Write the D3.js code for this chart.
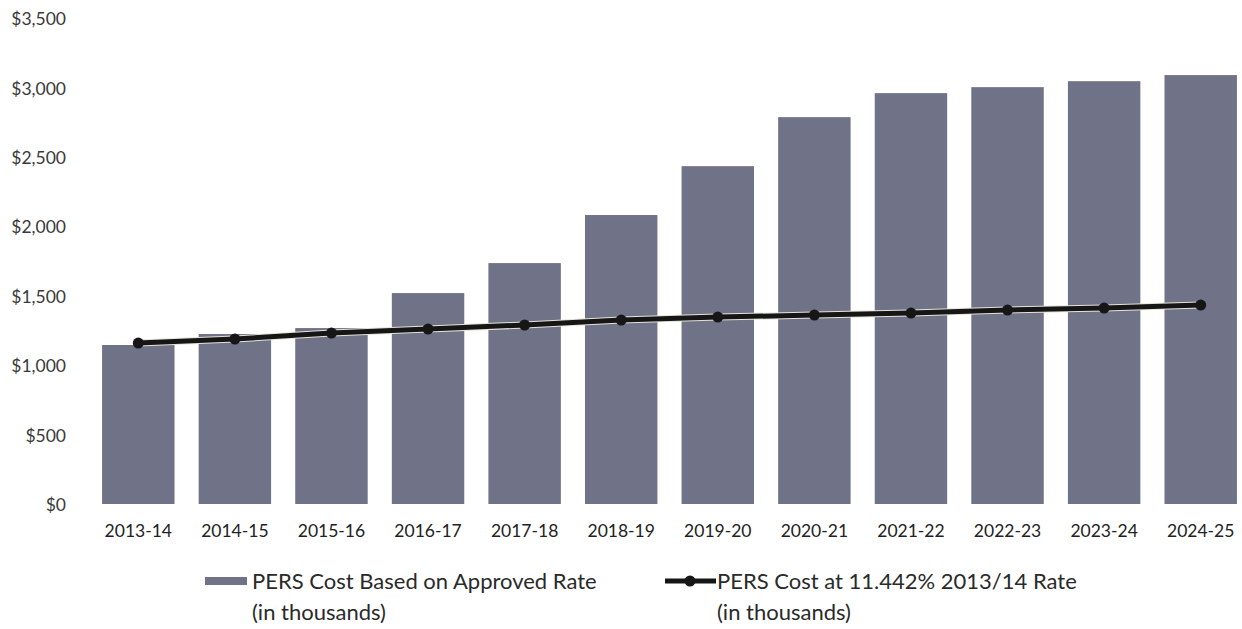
<!DOCTYPE html>
<html>
<head>
<meta charset="utf-8">
<script src="https://cdn.jsdelivr.net/npm/d3@7"></script>
<style>
  body { margin: 0; background: #fff; }
  svg { display: block; font-family: Lato, "Open Sans", sans-serif; }
</style>
</head>
<body>
<div class="chart"></div>
<script>
// fiscal years
var years = ["2013-14", "2014-15", "2015-16", "2016-17", "2017-18", "2018-19",
             "2019-20", "2020-21", "2021-22", "2022-23", "2023-24", "2024-25"];
// PERS cost based on approved rate (thousands)
var approved = [1145, 1224, 1267, 1519, 1735, 2081, 2433, 2786, 2959, 3002, 3045, 3089];
// PERS cost at 11.442% 2013/14 rate (thousands)
var flatRate = [1159, 1188, 1231, 1260, 1289, 1325, 1346, 1361, 1375, 1397, 1411, 1433];
var yTicks = [0, 500, 1000, 1500, 2000, 2500, 3000, 3500];
var legendBar = ["PERS Cost Based on Approved Rate", "(in thousands)"];
var legendLine = ["PERS Cost at 11.442% 2013/14 Rate", "(in thousands)"];

var width = 1242, height = 629;
var margin = {left: 90, right: -7, top: 18, bottom: 125};

const svg = d3.select(".chart").append("svg")
  .attr("width", width)
  .attr("height", height);

var x = d3.scaleBand()
  .domain(years)
  .range([margin.left, width - margin.right])
  .paddingInner(0.25)
  .paddingOuter(0.125);

var y = d3.scaleLinear()
  .domain([0, 3500])
  .range([height - margin.bottom, margin.top]);

// y axis labels, no line
var yAxis = d3.axisLeft(y)
  .tickValues(yTicks)
  .tickSize(0)
  .tickPadding(0)
  .tickFormat(function(d){ return "$" + d3.format(",")(d); });

svg.append("g")
  .attr("transform", "translate(66,1)")
  .call(yAxis)
  .call(function(g){ g.select(".domain").remove(); })
  .selectAll("text")
    .attr("font-size", 17.5)
    .attr("font-family", "Lato, sans-serif")
    .attr("fill", "#3a3a3a");

// x axis labels
var xAxis = d3.axisBottom(x).tickSize(0).tickPadding(0);
svg.append("g")
  .attr("transform", "translate(0," + (y(0) + 21) + ")")
  .call(xAxis)
  .call(function(g){ g.select(".domain").remove(); })
  .selectAll("text")
    .attr("font-size", 17.5)
    .attr("font-family", "Lato, sans-serif")
    .attr("fill", "#222");

// bars
svg.selectAll("rect.bar")
  .data(approved)
  .enter().append("rect")
    .attr("class", "bar")
    .attr("x", function(d,i){ return x(years[i]); })
    .attr("y", function(d){ return y(d); })
    .attr("width", x.bandwidth())
    .attr("height", function(d){ return y(0) - y(d); })
    .attr("fill", "#707287");

// line
var line = d3.line()
  .x(function(d,i){ return x(years[i]) + x.bandwidth()/2; })
  .y(function(d){ return y(d); });

svg.append("path")
  .attr("d", line(flatRate))
  .attr("fill", "none")
  .attr("stroke", "#e4e4d8")
  .attr("stroke-width", 7);

svg.append("path")
  .attr("d", line(flatRate))
  .attr("fill", "none")
  .attr("stroke", "#161616")
  .attr("stroke-width", 5);

svg.selectAll("circle.pt")
  .data(flatRate)
  .enter().append("circle")
    .attr("class", "pt")
    .attr("cx", function(d,i){ return x(years[i]) + x.bandwidth()/2; })
    .attr("cy", function(d){ return y(d); })
    .attr("r", 5.5)
    .attr("fill", "#161616");

// legend
var lg = svg.append("g").attr("font-size", 22).attr("fill", "#2a2a2a");

lg.append("rect")
  .attr("x", 205).attr("y", 577)
  .attr("width", 42).attr("height", 8)
  .attr("fill", "#707287");

lg.selectAll("text.l1")
  .data(legendBar)
  .enter().append("text")
    .attr("class", "l1")
    .attr("x", 252)
    .attr("y", function(d,i){ return 589 + i*31; })
    .text(function(d){ return d; });

lg.append("line")
  .attr("x1", 665).attr("x2", 716)
  .attr("y1", 581).attr("y2", 581)
  .attr("stroke", "#161616").attr("stroke-width", 5);

lg.append("circle")
  .attr("cx", 690).attr("cy", 581).attr("r", 5.5)
  .attr("fill", "#161616");

lg.selectAll("text.l2")
  .data(legendLine)
  .enter().append("text")
    .attr("class", "l2")
    .attr("x", 717)
    .attr("y", function(d,i){ return 589 + i*31; })
    .text(function(d){ return d; });
</script>
</body>
</html>
